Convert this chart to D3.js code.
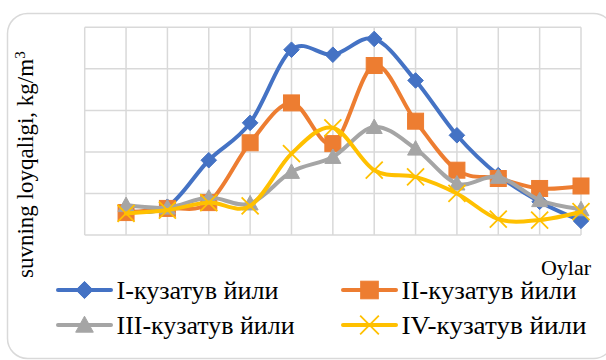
<!DOCTYPE html>
<html>
<head>
<meta charset="utf-8">
<script src="https://cdn.jsdelivr.net/npm/d3@7"></script>
<style>
  html, body { margin: 0; padding: 0; background: #fff; }
  svg { display: block; }
</style>
</head>
<body>
<svg id="chart" width="606" height="360"></svg>
<script>
// Months of the observation season (1..12)
const months = [1, 2, 3, 4, 5, 6, 7, 8, 9, 10, 11, 12];

// Water turbidity, kg/m3, per observation year
const year1 = [0.29, 0.34, 0.90, 1.35, 2.23, 2.17, 2.36, 1.86, 1.20, 0.72, 0.40, 0.17];
const year2 = [0.27, 0.32, 0.39, 1.11, 1.59, 1.10, 2.04, 1.37, 0.78, 0.68, 0.56, 0.59];
const year3 = [0.36, 0.33, 0.45, 0.38, 0.76, 0.94, 1.30, 1.04, 0.62, 0.70, 0.42, 0.31];
const year4 = [0.26, 0.30, 0.39, 0.35, 0.98, 1.29, 0.78, 0.70, 0.50, 0.19, 0.18, 0.28];

const seriesNames = ["I-кузатув йили", "II-кузатув йили", "III-кузатув йили", "IV-кузатув йили"];
const seriesColors = ["#4472C4", "#ED7D31", "#A5A5A5", "#FFC000"];
const seriesMarkers = ["diamond", "square", "triangle", "cross"];

const yTicks = [0, 0.5, 1, 1.5, 2, 2.5];
const xTicks = [0, 1, 2, 3, 4, 5, 6, 7, 8, 9, 10, 11, 12];

const yTitle = "suvning loyqaligi, kg/m";
const xTitle = "Oylar";

const series = [year1, year2, year3, year4].map((vals, i) => ({
  name: seriesNames[i], color: seriesColors[i], marker: seriesMarkers[i],
  points: months.map((m, j) => ({ m, v: vals[j] }))
}));

const svg = d3.select("#chart");
const serif = "'Liberation Serif', 'Times New Roman', 'DejaVu Serif', serif";

// outer chart frame
svg.append("rect")
  .attr("x", 7.5).attr("y", 13.5)
  .attr("width", 606).attr("height", 345)
  .attr("rx", 20).attr("ry", 20)
  .attr("fill", "#fff").attr("stroke", "#d9d9d9").attr("stroke-width", 1.5);

const plot = { left: 84.7, right: 581, top: 27.3, bottom: 235 };
const x = d3.scaleLinear().domain([0, 12]).range([plot.left, plot.right]);
const y = d3.scaleLinear().domain([0, 2.5]).range([plot.bottom, plot.top]);

// gridlines
const grid = svg.append("g").attr("stroke", "#d9d9d9").attr("stroke-width", 1.5);
grid.selectAll("line.h").data(yTicks).join("line")
  .attr("x1", plot.left).attr("x2", plot.right)
  .attr("y1", d => y(d)).attr("y2", d => y(d));
grid.selectAll("line.v").data(xTicks).join("line")
  .attr("y1", plot.top).attr("y2", plot.bottom)
  .attr("x1", d => x(d)).attr("x2", d => x(d));

const line = d3.line()
  .x(d => x(d.m)).y(d => y(d.v))
  .curve(d3.curveCatmullRom.alpha(0));

function drawMarker(g, type, color, cx, cy, scale = 1) {
  if (type === "diamond") {
    const r = 7.8 * scale;
    g.append("path").attr("d", `M${cx},${cy - r}L${cx + r},${cy}L${cx},${cy + r}L${cx - r},${cy}Z`)
      .attr("fill", color).attr("stroke", color).attr("stroke-width", 1);
  } else if (type === "square") {
    const s = 16 * scale;
    g.append("rect").attr("x", cx - s / 2).attr("y", cy - s / 2).attr("width", s).attr("height", s)
      .attr("fill", color).attr("stroke", color).attr("stroke-width", 1);
  } else if (type === "triangle") {
    const w = 16 * scale, h = 14.5 * scale;
    g.append("path").attr("d", `M${cx},${cy - h * 0.55}L${cx + w / 2},${cy + h * 0.45}L${cx - w / 2},${cy + h * 0.45}Z`)
      .attr("fill", color).attr("stroke", color).attr("stroke-width", 1);
  } else if (type === "cross") {
    const r = 8.5 * scale;
    g.append("path").attr("d", `M${cx - r},${cy - r}L${cx + r},${cy + r}M${cx - r},${cy + r}L${cx + r},${cy - r}`)
      .attr("fill", "none").attr("stroke", color).attr("stroke-width", 1.8);
  }
}

// series: smoothed line, then markers
series.forEach(s => {
  const g = svg.append("g");
  g.append("path").datum(s.points)
    .attr("d", line)
    .attr("fill", "none").attr("stroke", s.color).attr("stroke-width", 4)
    .attr("stroke-linecap", "round").attr("stroke-linejoin", "round");
  s.points.forEach(p => drawMarker(g, s.marker, s.color, x(p.m), y(p.v)));
});

// y-axis title
const yt = svg.append("text")
  .attr("transform", "translate(33,278) rotate(-90)")
  .attr("font-family", serif).attr("font-size", 23).attr("fill", "#000")
  .text(yTitle);
yt.append("tspan").attr("baseline-shift", "super").attr("font-size", 15).text("3");

// x-axis title
svg.append("text")
  .attr("x", 591).attr("y", 275).attr("text-anchor", "end")
  .attr("font-family", serif).attr("font-size", 22).attr("fill", "#000")
  .text(xTitle);

// legend
const legendPos = [
  { x: 58, y: 290, w: 162 }, { x: 343, y: 290, w: 175 },
  { x: 58, y: 325, w: 178 }, { x: 343, y: 325, w: 185 }
];
series.forEach((s, i) => {
  const p = legendPos[i];
  const g = svg.append("g");
  g.append("line")
    .attr("x1", p.x).attr("x2", p.x + 53).attr("y1", p.y).attr("y2", p.y)
    .attr("stroke", s.color).attr("stroke-width", 4).attr("stroke-linecap", "round");
  drawMarker(g, s.marker, s.color, p.x + 26.5, p.y, 1.1);
  g.append("text")
    .attr("x", p.x + 58.5).attr("y", p.y + 9)
    .attr("font-family", serif).attr("font-size", 26).attr("fill", "#000")
    .attr("textLength", p.w).attr("lengthAdjust", "spacingAndGlyphs")
    .text(s.name);
});
</script>
</body>
</html>
